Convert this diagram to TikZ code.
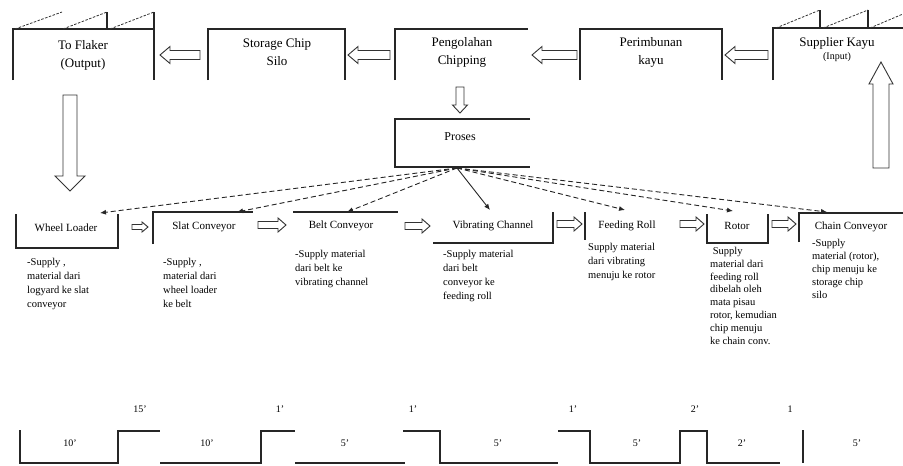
\documentclass[tikz,border=0pt]{standalone}
\usepackage{fontspec}
\setmainfont{Liberation Serif}
\usetikzlibrary{arrows.meta}
\newcommand{\bArrow}[7]{%
  \begin{scope}[shift={(#1,#2)},rotate=#3]
    \draw[blk] (0,-#5) -- ({#4-#7},-#5) -- ({#4-#7},-#6) -- (#4,0) -- ({#4-#7},#6) -- ({#4-#7},#5) -- (0,#5) -- cycle;
  \end{scope}}
\begin{document}
\begin{tikzpicture}[x=1pt,y=-1pt,
  ln/.style={line width=1.4pt, draw=black!85},
  fac/.style={dashed, line width=0.8pt, draw=black!80, dash pattern=on 2.5pt off 1.5pt},
  blk/.style={draw=black!80, line width=0.9pt, fill=white},
  dsh/.style={dashed, line width=0.9pt, draw=black!85, dash pattern=on 5pt off 3pt, -{Latex[length=6pt,width=5pt]}},
  sol/.style={line width=0.9pt, draw=black!85, -{Latex[length=6pt,width=5pt]}},
  lbl/.style={font=\fontsize{13}{18}\selectfont, align=center, inner sep=0},
  blbl/.style={font=\fontsize{11}{13}\selectfont, inner sep=0},
  desc/.style={font=\fontsize{10.5}{14}\selectfont, align=left, anchor=north west, inner sep=0},
  num/.style={font=\fontsize{10}{12}\selectfont, inner sep=0}]
\useasboundingbox[fill=white] (0,0) rectangle (903,466);

% ---------- top row ----------
% To Flaker (factory)
\draw[ln] (13,80) -- (13,29) -- (154,29);
\draw[ln] (154,12) -- (154,80);
\draw[ln] (107,12) -- (107,29);
\draw[fac] (15,29) -- (62,12);
\draw[fac] (63,29) -- (107,12);
\draw[fac] (110,29) -- (154,12);
\node[lbl] (flaker) at (83,55) {To Flaker\\(Output)};

% Storage Chip Silo
\draw[ln] (208,80) -- (208,29) -- (345,29) -- (345,80);
\node[lbl] (silo) at (277,52) {Storage Chip\\Silo};

% Pengolahan Chipping
\draw[ln] (395,80) -- (395,29) -- (528,29);
\node[lbl] (chipping) at (462,52) {Pengolahan\\Chipping};

% Perimbunan kayu
\draw[ln] (580,80) -- (580,29) -- (722,29) -- (722,80);
\node[lbl] (timbun) at (651,52) {Perimbunan\\kayu};

% Supplier Kayu (factory)
\draw[ln] (773,80) -- (773,28) -- (903,28);
\draw[ln] (820,10) -- (820,28);
\draw[ln] (868,10) -- (868,28);
\draw[fac] (776,28) -- (820,10);
\draw[fac] (823,28) -- (868,10);
\draw[fac] (870,28) -- (903,14);
\node[font=\fontsize{13}{14}\selectfont, inner sep=0] (supp) at (837,43) {Supplier Kayu};
\node[font=\fontsize{10}{12}\selectfont, inner sep=0] (suppin) at (837,57) {(Input)};

% hollow arrows top row (pointing left)
\bArrow{200}{55}{180}{40}{4.5}{8.5}{10}
\bArrow{390}{55}{180}{42}{4.5}{8.5}{10}
\bArrow{577}{55}{180}{45}{4.5}{8.5}{10}
\bArrow{768}{55}{180}{43}{4.5}{8.5}{10}

% down arrow to Proses
\bArrow{460}{87}{-90}{26}{4}{7.5}{8}

% Proses
\draw[ln] (530,119) -- (395,119) -- (395,167) -- (530,167);
\node[font=\fontsize{12}{14}\selectfont, inner sep=0] (proses) at (460,137) {Proses};
\coordinate (pout) at (457,168);

% big down arrow (left) and big up arrow (right)
\bArrow{70}{95}{-90}{96}{7}{15}{15}
\bArrow{881}{168}{90}{106}{8}{12}{22}

% ---------- bottom row ----------
\draw[ln] (16,214) -- (16,248) -- (118,248) -- (118,214);
\node[blbl] (wl) at (66,228) {Wheel Loader};
\coordinate (wlt) at (100,213);

\draw[ln] (153,244) -- (153,212) -- (253,212);
\node[blbl] (slat) at (204,227) {Slat Conveyor};
\coordinate (slatt) at (237,212);

\draw[ln] (293,212) -- (398,212);
\node[blbl] (belt) at (341,226) {Belt Conveyor};
\coordinate (beltt) at (347,212);

\draw[ln] (433,243) -- (553,243) -- (553,212);
\node[blbl] (vib) at (493,226) {Vibrating Channel};
\coordinate (vibt) at (490,210);

\draw[ln] (585,212) -- (585,240);
\node[blbl] (feed) at (627,226) {Feeding Roll};
\coordinate (feedt) at (625,210);

\draw[ln] (707,214) -- (707,243) -- (768,243) -- (768,214);
\node[blbl] (rotor) at (737,226) {Rotor};
\coordinate (rotort) at (733,211);

\draw[ln] (799,242) -- (799,213) -- (903,213);
\node[blbl] (chain) at (851,227) {Chain Conveyor};
\coordinate (chaint) at (827,212);

% small hollow arrows (pointing right)
\bArrow{132}{227}{0}{16}{2.5}{5}{6}
\bArrow{258}{225}{0}{28}{3.5}{7}{8}
\bArrow{405}{226}{0}{25}{3.5}{7}{8}
\bArrow{557}{224}{0}{25}{3.5}{7}{8}
\bArrow{680}{224}{0}{24}{3.5}{7}{8}
\bArrow{772}{224}{0}{24}{3.5}{7}{8}

% connectors from Proses
\draw[dsh] (pout) -- (wlt);
\draw[dsh] (pout) -- (slatt);
\draw[dsh] (pout) -- (beltt);
\draw[sol] (pout) -- (vibt);
\draw[dsh] (pout) -- (feedt);
\draw[dsh] (pout) -- (rotort);
\draw[dsh] (pout) -- (chaint);

% descriptions
\node[desc] (dwl) at (27,258) {-Supply ,\\material dari\\logyard ke slat\\conveyor};
\node[desc] (dslat) at (163,258) {-Supply ,\\material dari\\wheel loader\\ke belt};
\node[desc] (dbelt) at (295,250) {-Supply material\\dari belt ke\\vibrating channel};
\node[desc] (dvib) at (443,250) {-Supply material\\dari belt\\conveyor ke\\feeding roll};
\node[desc] (dfeed) at (588,243) {Supply material\\dari vibrating\\menuju ke rotor};
\node[desc, font=\fontsize{10.5}{12.8}\selectfont] (drotor) at (710,247) {\ Supply\\material dari\\feeding roll\\dibelah oleh\\mata pisau\\rotor, kemudian\\chip menuju\\ke chain conv.};
\node[desc, font=\fontsize{10.5}{13}\selectfont] (dchain) at (812,239) {-Supply\\material (rotor),\\chip menuju ke\\storage chip\\silo};

% ---------- timeline ----------
\draw[ln] (20,430) -- (20,463) -- (118,463) -- (118,431) -- (160,431);
\draw[ln] (160,463) -- (261,463) -- (261,431) -- (295,431);
\draw[ln] (295,463) -- (405,463);
\draw[ln] (403,431) -- (440,431) -- (440,463) -- (558,463);
\draw[ln] (558,431) -- (590,431) -- (590,463) -- (680,463) -- (680,431) -- (707,431) -- (707,463) -- (780,463);
\draw[ln] (803,430) -- (803,463);

\node[num] (t1) at (140,409) {15'};
\node[num] (t2) at (280,409) {1'};
\node[num] (t3) at (413,409) {1'};
\node[num] (t4) at (573,409) {1'};
\node[num] (t5) at (695,409) {2'};
\node[num] (t6) at (790,409) {1};
\node[num] (b1) at (70,443) {10'};
\node[num] (b2) at (207,443) {10'};
\node[num] (b3) at (345,443) {5'};
\node[num] (b4) at (498,443) {5'};
\node[num] (b5) at (637,443) {5'};
\node[num] (b6) at (742,443) {2'};
\node[num] (b7) at (857,443) {5'};
\end{tikzpicture}
\end{document}
